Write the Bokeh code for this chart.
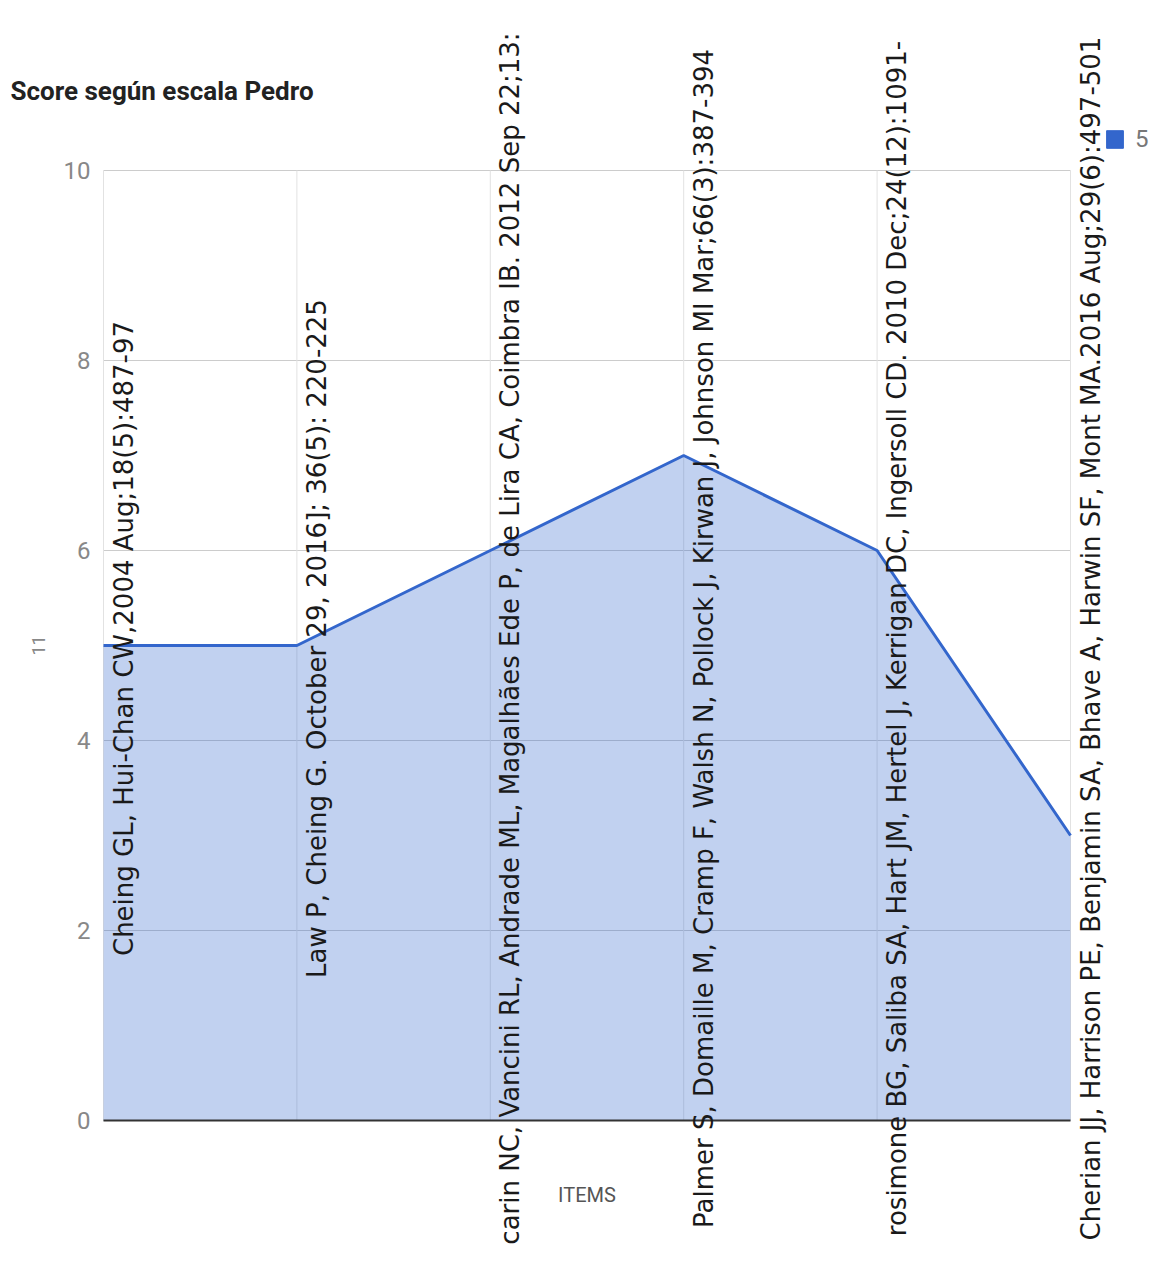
import numpy as np
from bokeh.plotting import figure
from bokeh.models import Range1d, ColumnDataSource, Legend, LegendItem
from bokeh.core.properties import value
from bokeh.embed import file_html
from bokeh.resources import INLINE

# ---- data ----
studies = [
    "Cheing GL, Hui-Chan CW,2004 Aug;18(5):487-97",
    "Law P, Cheing G. October 29, 2016]; 36(5): 220-225",
    "carin NC, Vancini RL, Andrade ML, Magalhães Ede P, de Lira CA, Coimbra IB. 2012 Sep 22;13:",
    "Palmer S, Domaille M, Cramp F, Walsh N, Pollock J, Kirwan J, Johnson MI Mar;66(3):387-394",
    "rosimone BG, Saliba SA, Hart JM, Hertel J, Kerrigan DC, Ingersoll CD. 2010 Dec;24(12):1091-",
    "Cherian JJ, Harrison PE, Benjamin SA, Bhave A, Harwin SF, Mont MA.2016 Aug;29(6):497-501",
]
scores = [5, 5, 6, 7, 6, 3]
y_ticks = [0, 2, 4, 6, 8, 10]
y_tick_labels = ["0", "2", "4", "6", "8", "10"]
series_name = "5"
chart_title = "Score según escala Pedro"
x_title = "ITEMS"
y_title = "11"

BLUE = "#3366cc"

# ---- layout (pixels) ----
W, H = 1155, 1265
ML, MR, MT, MB = 103, 85, 170, 145   # plot-area margins inside the canvas

xs = list(range(len(studies)))
ymin, ymax = y_ticks[0], y_ticks[-1]
ppx = (W - ML - MR) / (xs[-1] - xs[0])
ppy = (H - MT - MB) / (ymax - ymin)

p = figure(width=W, height=H,
           x_range=Range1d(xs[0] - ML / ppx, xs[-1] + MR / ppx),
           y_range=Range1d(ymin - MB / ppy, ymax + MT / ppy),
           output_backend="svg", toolbar_location=None,
           title=None, title_location=None,
           min_border_left=0, min_border_right=0,
           min_border_top=0, min_border_bottom=0)
p.axis.visible = False
p.grid.visible = False
p.outline_line_color = None
p.background_fill_color = "white"
p.border_fill_color = "white"

# ---- grid lines ----
p.segment(x0=[xs[0]] * len(y_ticks), x1=[xs[-1]] * len(y_ticks),
          y0=y_ticks, y1=y_ticks, line_color="#cccccc", line_width=1)
p.segment(x0=xs, x1=xs, y0=[ymin] * len(xs), y1=[ymax] * len(xs),
          line_color="#e2e2e2", line_width=1)

# ---- area + line ----
src = ColumnDataSource(dict(x=xs, y=scores, base=[ymin] * len(xs)))
p.varea(x="x", y1="base", y2="y", source=src, fill_color=BLUE, fill_alpha=0.3)
p.line(x="x", y="y", source=src, line_color=BLUE, line_width=3)

# baseline
p.segment(x0=[xs[0]], x1=[xs[-1]], y0=[ymin], y1=[ymin],
          line_color="#333333", line_width=2)

# ---- y tick labels ----
p.text(x=[xs[0]] * len(y_ticks), y=y_ticks, text=y_tick_labels,
       x_offset=-13, text_align="right", text_baseline="middle",
       text_font=value("Roboto"), text_font_size="24px", text_color="#888888")

# ---- axis titles ----
p.text(x=[xs[0]], y=[(ymin + ymax) / 2], text=[y_title], angle=np.pi / 2,
       x_offset=-65, text_align="center", text_baseline="middle",
       text_font=value("Roboto"), text_font_size="18px", text_color="#888888")
p.text(x=[(xs[0] + xs[-1]) / 2], y=[ymin], text=[x_title], y_offset=74,
       text_align="center", text_baseline="middle",
       text_font=value("Roboto"), text_font_size="20px", text_color="#555555")

# ---- chart title ----
p.text(x=[xs[0]], y=[ymax], text=[chart_title], x_offset=-93, y_offset=-80,
       text_align="left", text_baseline="middle",
       text_font=value("Roboto"), text_font_size="26px", text_font_style="bold",
       text_color="#222222")

# ---- study labels (rotated, centred vertically on the chart) ----
p.text(x=xs, y=[(ymin + ymax) / 2] * len(xs), text=studies, angle=np.pi / 2,
       x_offset=5, y_offset=-7, text_align="center", text_baseline="top",
       text_font=value("DejaVu Sans"), text_font_size="26px",
       text_color="#1a1a1a")

# ---- legend ----
nan = float("nan")
swatch = p.quad(left=[nan], right=[nan], top=[nan], bottom=[nan],
                fill_color=BLUE, line_color=BLUE)
legend = Legend(items=[LegendItem(label=series_name, renderers=[swatch])],
                location=(1104, 1112), padding=0, margin=0, spacing=0,
                glyph_width=21, glyph_height=22, label_standoff=10,
                label_height=22,
                label_text_font="Roboto", label_text_font_size="24px",
                label_text_color="#777777", label_text_baseline="middle",
                border_line_color=None, background_fill_alpha=0)
p.add_layout(legend)

open("out.html", "w").write(file_html(p, INLINE))
